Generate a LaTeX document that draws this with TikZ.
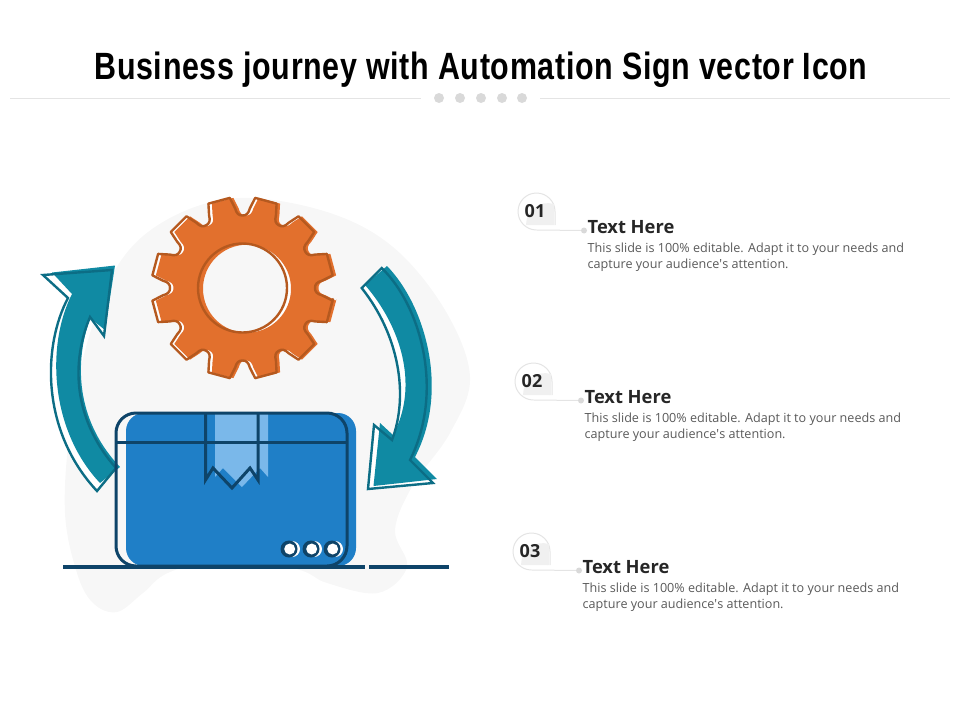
\documentclass[tikz,border=0pt]{standalone}
\usepackage{fontspec}
\setmainfont{Open Sans}
\newfontfamily\titlefont[LetterSpace=2.2]{Liberation Sans}
\definecolor{blobc}{HTML}{F7F7F7}
\definecolor{orangef}{HTML}{E2702D}
\definecolor{oranged}{HTML}{B5591F}
\definecolor{tealf}{HTML}{108AA3}
\definecolor{teald}{HTML}{0C6D85}
\definecolor{bluef}{HTML}{1F7FC7}
\definecolor{navy}{HTML}{0E4469}
\definecolor{bluel}{HTML}{7AB8EA}
\definecolor{greyl}{HTML}{E4E4E4}
\definecolor{greyd}{HTML}{D9D9D9}
\definecolor{greyf}{HTML}{F0F0F0}
\definecolor{bodyc}{HTML}{595959}
\newcommand{\gearteeth}{(7:91)
  \foreach \a in {15,45,...,345} {
    -- ({\a+7}:91) -- ({\a+9.7}:80)
    .. controls ({\a+10.4}:74.5) and ({\a+12.2}:72.5) .. ({\a+15}:72.5)
    .. controls ({\a+17.8}:72.5) and ({\a+19.6}:74.5) .. ({\a+20.3}:80)
    -- ({\a+23}:91) -- ({\a+37}:91)
  } -- cycle}
\newcommand{\leftoutline}{(43,275) -- (68,298) .. controls (43,345) and (40,430) .. (97,491) -- (116,468)
  .. controls (78,425) and (68,370) .. (90,317) -- (104,336) -- (112,270) -- cycle}
\newcommand{\rightoutline}{(361.7,288) -- (381.7,268) .. controls (420,305) and (445,390) .. (410,460) -- (433,483) -- (368,489) -- (374,425) -- (392,440)
  .. controls (409,395) and (399,335) .. (361.7,288) -- cycle}
\tikzset{
  x=1pt,y=-1pt,
  rulec/.style={draw=greyl,line width=0.8pt},
  headdot/.style={circle,fill=greyd,draw=none,minimum size=10pt,inner sep=0pt},
  enddot/.style={circle,fill=greyd,draw=none,minimum size=6pt,inner sep=0pt},
  numtext/.style={font=\bfseries\fontsize{18}{20}\selectfont,text=black!85},
  headtext/.style={anchor=base west,inner sep=0pt,font=\bfseries\fontsize{18.3}{20}\selectfont,text=black!85},
  bodytext/.style={anchor=base west,inner sep=0pt,font=\fontsize{12.6}{16}\selectfont,text=bodyc},
  gearline/.style={draw=oranged,line width=2.4pt,line join=round},
  gearfill/.style={fill=orangef,even odd rule},
  arrowline/.style={draw=teald,line width=2.4pt,line join=miter},
  arrowfill/.style={fill=tealf},
  navyline/.style={draw=navy,line width=3pt,line join=miter},
}
\begin{document}
\begin{tikzpicture}
\useasboundingbox (0,0) rectangle (960,720);
% header
\node[font=\titlefont\bfseries\fontsize{38}{44}\selectfont,text=black,xscale=0.8,anchor=center,inner sep=0pt] (title) at (481,70) {Business journey with Automation Sign vector Icon};
\coordinate (ruleA) at (10,98); \coordinate (ruleB) at (421,98);
\coordinate (ruleC) at (540,98); \coordinate (ruleD) at (950,98);
\draw[rulec] (ruleA) -- (ruleB);
\draw[rulec] (ruleC) -- (ruleD);
\foreach \n/\x in {1/439,2/460,3/481,4/502,5/522}
  \node[headdot] (hd\n) at (\x,98) {};
% blob
\fill[blobc] plot[smooth cycle,tension=0.6] coordinates {
 (240,198) (327,212) (393,247) (445,310) (470,377) (450,433) (413,485) (395,530)
 (407,567) (378,593) (327,583) (300,570) (235,555) (170,572) (143,593) (117,612) (93,603) (77,573) (65,513) (70,430) (88,340) (120,262) (170,218)};
% gear
\begin{scope}[shift={(242.5,288)}]
  \path[fill=white,even odd rule] \gearteeth (0,0) circle[radius=44.5];
  \path[gearfill,shift={(3.5,0)}] \gearteeth (1,0.7) circle[radius=44];
  \path[gearline] \gearteeth (0,0) circle[radius=44.5];
\end{scope}
% left arrow
\path[fill=white] \leftoutline;
\path[arrowfill] (115,265.5) -- (52,272.5) -- (72,294) .. controls (46,345) and (50,430) .. (100,483) -- (120,467)
  .. controls (80,425) and (72,370) .. (90,318) -- (105,330) -- cycle;
\path[arrowline] \leftoutline;
% right arrow
\path[fill=white] \rightoutline;
\path[arrowfill] (387,266) -- (365,285) .. controls (400,325) and (420,385) .. (393,435) -- (380,423) -- (373.5,486) -- (437,479) -- (415,457)
  .. controls (450,390) and (425,305) .. (387,266) -- cycle;
\path[arrowline] \rightoutline;
% box
\fill[bluef,rounded corners=18pt] (126,413) rectangle (356,566);
\fill[bluel] (215,413) -- (268,413) -- (268,477) -- (260,468) -- (242,487) -- (223,468) -- (215,477) -- cycle;
\draw[navyline,rounded corners=20pt] (116,413) rectangle (347,566);
\draw[navyline] (116,442) -- (347,442);
\draw[navyline] (205.5,413) -- (205.5,480) -- (213,468) -- (232,488) -- (250,468) -- (258,480) -- (258,413);
\foreach \n/\x in {1/289,2/311,3/332}{
  \fill[white] (\x+3,549) circle[radius=8];
  \fill[navy] (\x,549) circle[radius=8.5];
  \fill[white] (\x+0.7,549) circle[radius=5.5];
}
% ground
\coordinate (gA) at (63,567); \coordinate (gB) at (364.5,567);
\coordinate (gC) at (369,567); \coordinate (gD) at (449,567);
\draw[navy,line width=4.5pt] (gA) -- (gB);
\draw[navy,line width=4.5pt] (gC) -- (gD);
% rows
\foreach \i/\num/\dx/\dy in {1/01/0/0,2/02/-3/170,3/03/-5/340}{
 \begin{scope}[shift={(\dx,\dy)}]
  \path[draw=greyl,fill=white,line width=1pt] (555,225) -- (555,211.5) .. controls (555,201.3) and (546.7,193) .. (536.5,193)
    .. controls (526.3,193) and (518,201.3) .. (518,211.5) .. controls (518,221.7) and (526.3,230) .. (536.5,230);
  \fill[greyf] (526,225) .. controls (526,210) and (540,200) .. (554,204) -- (554,225) -- cycle;
  \node[numtext] (num\i) at (535,211.5) {\num};
  \node[enddot] (dot\i) at (584,230.5) {};
  \coordinate (lead\i) at (536.5,230);
  \draw[greyl,line width=1pt] (lead\i) -- (dot\i);
  \node[headtext] (head\i) at (587.5,233.2) {Text Here};
  \node[bodytext] (bodya\i) at (587.5,252) {This slide is 100\% editable. Adapt it to your needs and};
  \node[bodytext] (bodyb\i) at (587.5,268) {capture your audience\textquotesingle s attention.};
 \end{scope}
}
\end{tikzpicture}
\end{document}
